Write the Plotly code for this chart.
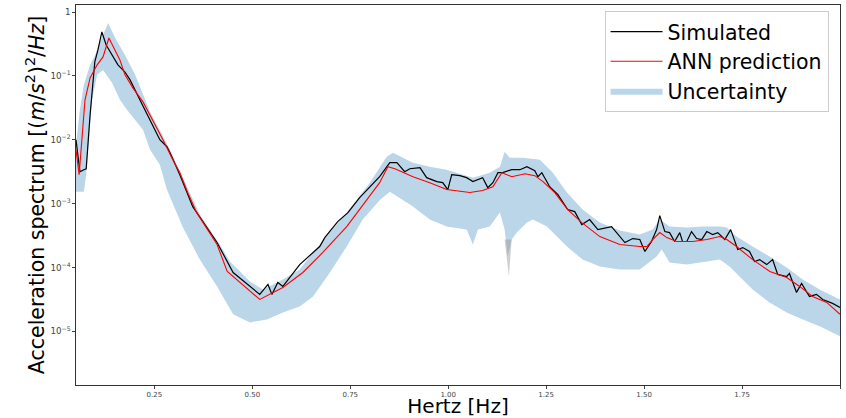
import plotly.graph_objects as go

# ---- Simulated spectrum (black) ----
sim_freq = [0.050, 0.060, 0.070, 0.076, 0.086, 0.098, 0.106, 0.116, 0.127, 0.137,
            0.157, 0.175, 0.188, 0.213, 0.239, 0.264, 0.282, 0.290, 0.315, 0.348,
            0.410, 0.451, 0.519, 0.540, 0.550, 0.565, 0.578, 0.621, 0.672, 0.685,
            0.718, 0.744, 0.774, 0.805, 0.825, 0.851, 0.869, 0.889, 0.902, 0.928,
            0.945, 0.971, 0.986, 0.999, 1.009, 1.030, 1.047, 1.063, 1.088, 1.101,
            1.114, 1.127, 1.139, 1.162, 1.183, 1.201, 1.221, 1.229, 1.239, 1.259,
            1.280, 1.305, 1.323, 1.341, 1.361, 1.382, 1.417, 1.451, 1.471, 1.489,
            1.502, 1.519, 1.532, 1.540, 1.553, 1.565, 1.578, 1.591, 1.598, 1.609,
            1.621, 1.634, 1.647, 1.660, 1.675, 1.688, 1.706, 1.721, 1.739, 1.752,
            1.769, 1.782, 1.795, 1.813, 1.828, 1.841, 1.864, 1.871, 1.889, 1.902,
            1.922, 1.940, 1.956, 1.981, 2.000]
sim_vals = [1.00e-2, 3.16e-3, 3.40e-3, 3.52e-3, 2.46e-2, 1.66e-1, 2.55e-1, 4.87e-1, 3.05e-1, 2.37e-1,
            1.49e-1, 1.15e-1, 8.66e-2, 4.22e-2, 2.05e-2, 1.00e-2, 7.78e-3, 6.26e-3, 2.84e-3, 8.98e-4,
            2.46e-4, 8.35e-5, 3.79e-5, 5.42e-5, 3.79e-5, 5.83e-5, 5.05e-5, 1.11e-4, 2.13e-4, 2.94e-4,
            5.24e-4, 7.23e-4, 1.24e-3, 1.98e-3, 2.64e-3, 4.37e-3, 4.37e-3, 3.16e-3, 3.52e-3, 3.65e-3,
            2.55e-3, 2.21e-3, 2.13e-3, 1.66e-3, 2.84e-3, 2.74e-3, 2.55e-3, 2.21e-3, 2.55e-3, 1.78e-3,
            2.13e-3, 3.05e-3, 3.05e-3, 3.40e-3, 3.40e-3, 3.79e-3, 3.28e-3, 2.64e-3, 3.05e-3, 1.84e-3,
            1.38e-3, 8.06e-4, 7.50e-4, 4.70e-4, 5.62e-4, 3.92e-4, 4.37e-4, 2.46e-4, 2.84e-4, 2.74e-4,
            1.78e-4, 2.55e-4, 3.92e-4, 6.49e-4, 3.65e-4, 3.52e-4, 2.55e-4, 3.52e-4, 2.55e-4, 2.55e-4,
            3.65e-4, 2.84e-4, 2.74e-4, 3.65e-4, 3.28e-4, 3.52e-4, 2.74e-4, 3.92e-4, 1.91e-4, 2.05e-4,
            1.78e-4, 1.24e-4, 1.33e-4, 1.11e-4, 1.33e-4, 7.78e-5, 7.23e-5, 8.06e-5, 4.07e-5, 5.62e-5,
            3.52e-5, 3.79e-5, 3.16e-5, 2.74e-5, 2.37e-5]

# ---- ANN prediction (red) ----
ann_freq = [0.050, 0.058, 0.073, 0.086, 0.104, 0.119, 0.134, 0.145, 0.162, 0.175,
            0.195, 0.221, 0.246, 0.272, 0.297, 0.315, 0.335, 0.358, 0.410, 0.436,
            0.519, 0.578, 0.629, 0.680, 0.741, 0.774, 0.825, 0.846, 0.864, 0.910,
            0.953, 0.996, 1.055, 1.088, 1.114, 1.137, 1.162, 1.196, 1.221, 1.242,
            1.272, 1.305, 1.341, 1.387, 1.438, 1.489, 1.507, 1.522, 1.540, 1.558,
            1.583, 1.624, 1.660, 1.693, 1.711, 1.736, 1.777, 1.821, 1.864, 1.897,
            1.930, 1.966, 2.000]
ann_vals = [6.98e-3, 2.84e-3, 4.22e-2, 9.31e-2, 1.49e-1, 1.98e-1, 3.92e-1, 2.84e-1, 1.78e-1, 1.04e-1,
            6.49e-2, 3.92e-2, 2.05e-2, 1.00e-2, 4.87e-3, 3.05e-3, 1.49e-3, 7.23e-4, 2.29e-4, 8.66e-5,
            3.16e-5, 4.87e-5, 8.35e-5, 1.72e-4, 4.37e-4, 8.06e-4, 2.13e-3, 3.79e-3, 3.52e-3, 2.64e-3,
            2.13e-3, 1.66e-3, 1.49e-3, 1.60e-3, 1.84e-3, 3.05e-3, 2.64e-3, 2.94e-3, 2.74e-3, 2.21e-3,
            1.49e-3, 8.06e-4, 5.05e-4, 3.05e-4, 2.29e-4, 2.13e-4, 2.13e-4, 2.74e-4, 3.52e-4, 2.94e-4,
            2.55e-4, 2.55e-4, 2.74e-4, 3.05e-4, 2.74e-4, 2.13e-4, 1.33e-4, 8.66e-5, 6.98e-5, 5.05e-5,
            3.52e-5, 2.84e-5, 1.85e-5]

# ---- Uncertainty band ----
band_up_freq = [0.050, 0.060, 0.070, 0.086, 0.099, 0.111, 0.132, 0.150, 0.175, 0.201,
                0.239, 0.290, 0.366, 0.417, 0.443, 0.494, 0.527, 0.578, 0.621, 0.655,
                0.741, 0.800, 0.843, 0.859, 0.910, 0.953, 0.996, 1.063, 1.106, 1.132,
                1.144, 1.157, 1.190, 1.234, 1.267, 1.303, 1.343, 1.387, 1.438, 1.489,
                1.522, 1.540, 1.565, 1.609, 1.650, 1.693, 1.711, 1.736, 1.777, 1.820,
                1.864, 1.905, 1.948, 2.000]
band_up_vals = [8.35e-3, 2.94e-2, 7.23e-2, 1.49e-1, 2.13e-1, 3.40e-1, 6.73e-1, 3.92e-1, 2.13e-1, 1.04e-1,
                2.74e-2, 6.98e-3, 6.73e-4, 2.29e-4, 1.24e-4, 6.04e-5, 4.53e-5, 6.49e-5, 9.31e-5, 1.72e-4,
                7.23e-4, 2.13e-3, 5.42e-3, 6.26e-3, 4.37e-3, 3.79e-3, 3.40e-3, 2.55e-3, 3.05e-3, 3.79e-3,
                6.49e-3, 5.23e-3, 5.23e-3, 4.87e-3, 3.05e-3, 1.49e-3, 8.06e-4, 5.05e-4, 3.79e-4, 3.28e-4,
                3.92e-4, 5.62e-4, 4.37e-4, 4.22e-4, 4.37e-4, 4.37e-4, 4.22e-4, 3.05e-4, 2.13e-4, 1.49e-4,
                1.00e-4, 6.49e-5, 4.53e-5, 3.16e-5]
band_lo_freq = [0.050, 0.070, 0.076, 0.081, 0.091, 0.104, 0.119, 0.142, 0.162, 0.180,
                0.221, 0.239, 0.264, 0.282, 0.323, 0.366, 0.410, 0.451, 0.494, 0.537,
                0.578, 0.621, 0.655, 0.698, 0.741, 0.782, 0.826, 0.851, 0.869, 0.910,
                0.953, 0.996, 1.047, 1.063, 1.076, 1.106, 1.132, 1.144, 1.152, 1.162,
                1.175, 1.201, 1.216, 1.252, 1.303, 1.343, 1.387, 1.438, 1.489, 1.532,
                1.545, 1.565, 1.609, 1.660, 1.693, 1.718, 1.777, 1.820, 1.864, 1.905,
                1.948, 2.000]
band_lo_vals = [1.54e-3, 1.54e-3, 2.84e-3, 6.98e-3, 4.22e-2, 1.04e-1, 1.24e-1, 7.78e-2, 4.22e-2, 2.94e-2,
                1.43e-2, 6.98e-3, 4.07e-3, 1.66e-3, 4.22e-4, 1.33e-4, 5.05e-5, 1.85e-5, 1.38e-5, 1.54e-5,
                1.98e-5, 2.46e-5, 3.52e-5, 8.35e-5, 2.13e-4, 5.62e-4, 1.15e-3, 1.54e-3, 1.29e-3, 8.98e-4,
                5.62e-4, 4.37e-4, 3.92e-4, 2.29e-4, 3.92e-4, 4.37e-4, 7.23e-4, 3.92e-4, 1.49e-4, 2.74e-4,
                3.52e-4, 5.05e-4, 5.62e-4, 4.37e-4, 2.13e-4, 1.33e-4, 1.04e-4, 9.31e-5, 9.31e-5, 1.49e-4,
                1.91e-4, 1.20e-4, 1.11e-4, 1.24e-4, 1.33e-4, 1.04e-4, 4.53e-5, 2.84e-5, 1.98e-5, 1.54e-5,
                1.20e-5, 8.35e-6]

# small grey spike inside the band near 1.15 Hz
spike_freq = [1.144, 1.155, 1.162]
spike_vals = [2.74e-4, 7.23e-5, 2.74e-4]

x_ticks = [0.25, 0.50, 0.75, 1.00, 1.25, 1.50, 1.75, 2.00]

fig = go.Figure()

fig.add_trace(go.Scatter(
    x=band_up_freq + band_lo_freq[::-1],
    y=band_up_vals + band_lo_vals[::-1],
    fill="toself", mode="lines", line=dict(width=0),
    fillcolor="rgba(31,119,180,0.3)", name="Uncertainty", legendrank=3,
    hoverinfo="skip"))
fig.add_trace(go.Scatter(
    x=spike_freq, y=spike_vals, fill="toself", mode="lines", line=dict(width=0),
    fillcolor="rgba(150,150,150,0.45)", showlegend=False, hoverinfo="skip"))
fig.add_trace(go.Scatter(
    x=sim_freq, y=sim_vals, mode="lines", line=dict(color="black", width=1.2),
    name="Simulated", legendrank=1))
fig.add_trace(go.Scatter(
    x=ann_freq, y=ann_vals, mode="lines", line=dict(color="red", width=1.1),
    name="ANN prediction", legendrank=2))

fig.update_layout(
    width=846, height=418,
    margin=dict(l=76, r=6, t=5, b=33, autoexpand=False),
    plot_bgcolor="white", paper_bgcolor="white",
    font=dict(family="DejaVu Sans", color="black"),
    legend=dict(x=0.985, y=0.985, xanchor="right", yanchor="top",
                font=dict(size=20.5), bgcolor="rgba(255,255,255,0.8)",
                bordercolor="#cccccc", borderwidth=1, itemwidth=52,
                tracegroupgap=0),
    xaxis=dict(range=[0.05, 2.0], tickvals=x_ticks, tickformat=".2f",
               tickfont=dict(size=7, color="#444"), ticks="outside", ticklen=3,
               showgrid=False, zeroline=False, showline=True, linecolor="#333",
               linewidth=1, mirror=True, automargin=False,
               title=dict(text="Hertz [Hz]", font=dict(size=20), standoff=5)),
    yaxis=dict(type="log", range=[-5.84, 0.11], dtick=1, exponentformat="power",
               tickfont=dict(size=7, color="#444"), ticks="outside", ticklen=3,
               showgrid=False, zeroline=False, showline=True, linecolor="#333",
               linewidth=1, mirror=True, automargin=False,
               title=dict(text="Acceleration spectrum [(<i>m</i>/<i>s</i><sup>2</sup>)<sup>2</sup>/<i>Hz</i>]",
                          font=dict(size=20.5), standoff=0)),
)

fig.write_html("out.html", config={"displayModeBar": False},
               post_script="document.body.style.margin='0';document.body.style.overflow='hidden';")
